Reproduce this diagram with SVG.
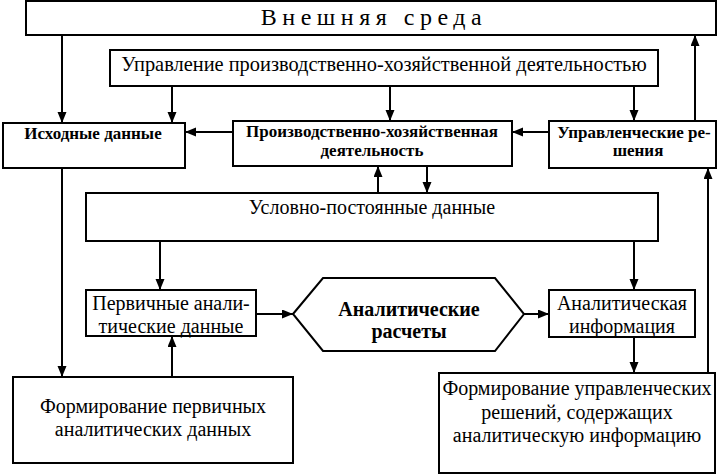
<svg xmlns="http://www.w3.org/2000/svg" width="720" height="474" viewBox="0 0 720 474">
<defs>
<marker id="ah" markerUnits="userSpaceOnUse" markerWidth="12" markerHeight="10" refX="11" refY="4.5" orient="auto">
<path d="M0,0 L11,4.5 L0,9 z" fill="#000"/>
</marker>
<style>
.box{fill:#fff;stroke:#000;stroke-width:2}
.c{fill:none;stroke:#000;stroke-width:2;marker-end:url(#ah)}
.t{font-family:'Liberation Serif','Times New Roman',serif;font-size:20px;fill:#000;text-anchor:middle}
.b{font-family:'Liberation Serif','Times New Roman',serif;font-size:17px;font-weight:bold;fill:#000;text-anchor:middle}
</style>
</defs>
<rect width="720" height="474" fill="#fff"/>
<g id="connectors">
<path class="c" d="M62,35 V123"/>
<path class="c" d="M172,86 V123"/>
<path class="c" d="M390,86 V121"/>
<path class="c" d="M634,86 V121"/>
<path class="c" d="M233,132 H185"/>
<path class="c" d="M549,132 H512"/>
<path class="c" d="M695,121 V35"/>
<path class="c" d="M378,193 V166"/>
<path class="c" d="M427,166 V193"/>
<path class="c" d="M708,373 V168"/>
<path class="c" d="M62,168 V377"/>
<path class="c" d="M160,241 V290"/>
<path class="c" d="M634,241 V290"/>
<path class="c" d="M256,314 H293"/>
<path class="c" d="M524,314 H549"/>
<path class="c" d="M634,337 V373"/>
<path class="c" d="M172,377 V336"/>
</g>
<g id="vneshnyaya">
<rect class="box" x="26" y="1" width="690" height="34"/>
<text class="t" x="374" y="25" style="font-size:24px;letter-spacing:5.5px">Внешняя  среда</text>
</g>
<g id="upravlenie">
<rect class="box" x="110" y="50" width="548" height="36"/>
<text class="t" x="384" y="71" style="font-size:20.4px">Управление производственно-хозяйственной деятельностью</text>
</g>
<g id="ishodnye">
<rect class="box" x="3" y="123" width="182" height="45"/>
<text class="b" x="93" y="139">Исходные данные</text>
</g>
<g id="proizv">
<rect class="box" x="233" y="121" width="279" height="45"/>
<text class="b" x="372" y="137">Производственно-хозяйственная</text>
<text class="b" x="372" y="156">деятельность</text>
</g>
<g id="upr-resh">
<rect class="box" x="549" y="121" width="167" height="47"/>
<text class="b" x="634" y="138">Управленческие ре-</text>
<text class="b" x="638" y="156">шения</text>
</g>
<g id="uslovno">
<rect class="box" x="86" y="193" width="572" height="48"/>
<text class="t" x="372" y="214">Условно-постоянные данные</text>
</g>
<g id="pervichnye">
<rect class="box" x="86" y="290" width="170" height="46"/>
<text class="t" x="171" y="310">Первичные анали-</text>
<text class="t" x="171" y="333">тические данные</text>
</g>
<g id="raschety">
<polygon class="box" points="293,314 323,278 495,278 524,314 495,351 323,351"/>
<text class="b" x="409" y="316" style="font-size:20px">Аналитические</text>
<text class="b" x="409" y="338" style="font-size:20px">расчеты</text>
</g>
<g id="analit-info">
<rect class="box" x="549" y="290" width="146" height="47"/>
<text class="t" x="622" y="310">Аналитическая</text>
<text class="t" x="622" y="333">информация</text>
</g>
<g id="form-perv">
<rect class="box" x="13" y="377" width="280" height="86"/>
<text class="t" x="153" y="413">Формирование первичных</text>
<text class="t" x="153" y="436">аналитических данных</text>
</g>
<g id="form-upr">
<rect class="box" x="439" y="373" width="276" height="100"/>
<text class="t" x="577" y="395">Формирование управленческих</text>
<text class="t" x="577" y="419">решений, содержащих</text>
<text class="t" x="577" y="442">аналитическую информацию</text>
</g>
</svg>
